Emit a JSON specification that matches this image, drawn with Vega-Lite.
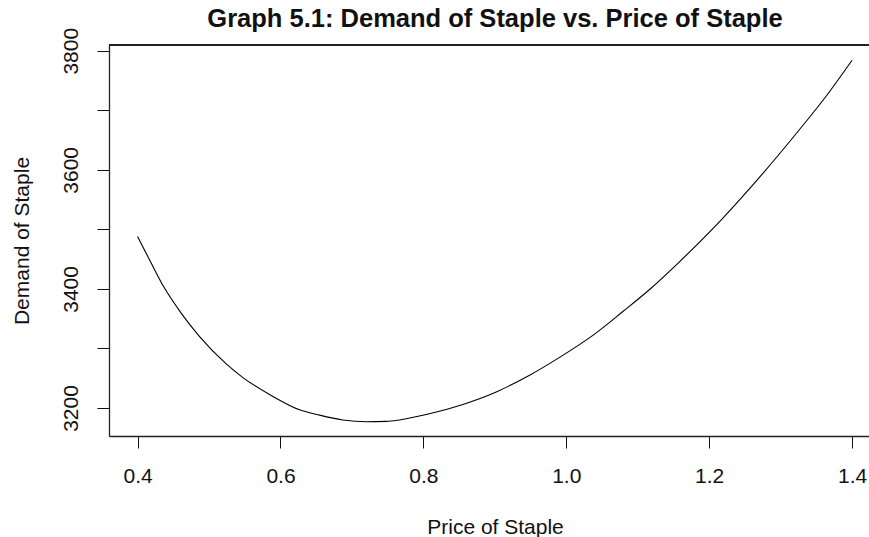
{
  "$schema": "https://vega.github.io/schema/vega-lite/v6.json",
  "width": 760,
  "height": 391,
  "autosize": {"type": "none"},
  "padding": {"left": 109, "top": 45, "right": 0, "bottom": 101},
  "background": "white",
  "config": {
    "view": {"stroke": null},
    "font": "Liberation Sans",
    "axis": {
      "grid": false,
      "domainColor": "#222",
      "domainWidth": 1.3,
      "tickColor": "#111",
      "tickWidth": 1,
      "tickSize": 12,
      "labelFont": "Liberation Sans",
      "labelFontSize": 21,
      "labelColor": "#111",
      "titleFont": "Liberation Sans",
      "titleFontSize": 21,
      "titleFontWeight": "normal",
      "titleColor": "#111",
      "labelFlush": false,
      "labelOverlap": false
    }
  },
  "title": {
    "text": "Graph 5.1: Demand of Staple vs. Price of Staple",
    "font": "Liberation Sans",
    "fontSize": 25.5,
    "fontWeight": "bold",
    "color": "#111",
    "anchor": "middle",
    "dx": 6,
    "offset": -5
  },
  "data": {
    "values": [
      {"price": 0.4, "demand": 3488},
      {"price": 0.4192, "demand": 3443},
      {"price": 0.4354, "demand": 3406},
      {"price": 0.4612, "demand": 3359},
      {"price": 0.4868, "demand": 3320},
      {"price": 0.5241, "demand": 3274},
      {"price": 0.5474, "demand": 3251},
      {"price": 0.5894, "demand": 3219.5},
      {"price": 0.6267, "demand": 3197},
      {"price": 0.6547, "demand": 3188},
      {"price": 0.6873, "demand": 3180},
      {"price": 0.7201, "demand": 3177},
      {"price": 0.7481, "demand": 3177.5},
      {"price": 0.7667, "demand": 3180},
      {"price": 0.8041, "demand": 3189},
      {"price": 0.8553, "demand": 3206},
      {"price": 0.9020, "demand": 3227},
      {"price": 0.9486, "demand": 3255},
      {"price": 0.9906, "demand": 3285},
      {"price": 1.0372, "demand": 3322},
      {"price": 1.0792, "demand": 3362},
      {"price": 1.1166, "demand": 3399},
      {"price": 1.1562, "demand": 3443},
      {"price": 1.2169, "demand": 3516},
      {"price": 1.2752, "demand": 3594},
      {"price": 1.3219, "demand": 3661},
      {"price": 1.3639, "demand": 3724},
      {"price": 1.4, "demand": 3784}
    ]
  },
  "layer": [
    {
      "mark": {"type": "line", "color": "#000", "strokeWidth": 1.1, "interpolate": "monotone", "clip": true},
      "encoding": {
        "x": {
          "field": "price",
          "type": "quantitative",
          "scale": {"domain": [0.36, 1.4237], "nice": false, "zero": false},
          "axis": {
            "title": "Price of Staple",
            "values": [0.4, 0.6, 0.8, 1.0, 1.2, 1.4],
            "format": ".1f",
            "labelPadding": 17,
            "labelBaseline": "top",
            "titleX": 386,
            "titleY": 97,
            "titleAnchor": null,
            "titleBaseline": "alphabetic"
          }
        },
        "y": {
          "field": "demand",
          "type": "quantitative",
          "scale": {"domain": [3153, 3809.6], "nice": false, "zero": false},
          "axis": {
            "title": "Demand of Staple",
            "values": [3200, 3300, 3400, 3500, 3600, 3700, 3800],
            "labelExpr": "datum.value % 200 == 0 ? format(datum.value, 'd') : ''",
            "labelAngle": 270,
            "labelAlign": "center",
            "labelBaseline": "alphabetic",
            "labelPadding": 20,
            "titleAngle": 270,
            "titleX": -80.5,
            "titleY": 195.5,
            "titleAlign": "center",
            "titleBaseline": "alphabetic"
          }
        }
      }
    },
    {
      "mark": {"type": "rule", "color": "#222", "strokeWidth": 1.3},
      "encoding": {"y": {"datum": 3809.6}}
    }
  ]
}
